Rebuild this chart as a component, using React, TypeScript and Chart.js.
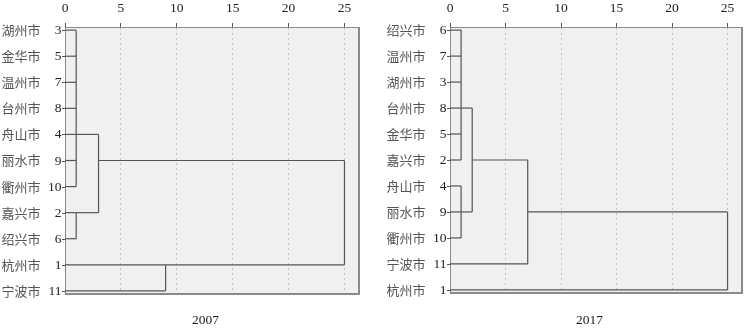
import React, { useEffect, useRef } from "react";
import { Chart, registerables } from "chart.js";
Chart.register(...registerables);

// ---- Data ----
const cities2007 = ["湖州市", "金华市", "温州市", "台州市", "舟山市", "丽水市", "衢州市", "嘉兴市", "绍兴市", "杭州市", "宁波市"];
const ids2007 = [3, 5, 7, 8, 4, 9, 10, 2, 6, 1, 11];
// merge children: leaf row indices (numbers) or earlier merges ("m#")
const mergeChildren2007: (number | string)[][] = [[0, 1, 2, 3, 4, 5, 6], [7, 8], [9, 10], ["m0", "m1"], ["m3", "m2"]];
const mergeHeights2007 = [1, 1, 9, 3, 25];
const mergeRows2007 = [4, 7, 9, 5, 5];

const cities2017 = ["绍兴市", "温州市", "湖州市", "台州市", "金华市", "嘉兴市", "舟山市", "丽水市", "衢州市", "宁波市", "杭州市"];
const ids2017 = [6, 7, 3, 8, 5, 2, 4, 9, 10, 11, 1];
const mergeChildren2017: (number | string)[][] = [[0, 1, 2, 3, 4, 5], [6, 7, 8], ["m0", "m1"], ["m2", 9], ["m3", 10]];
const mergeHeights2017 = [1, 1, 2, 7, 25];
const mergeRows2017 = [3, 7, 5, 7, 7];

const xTicks = [0, 5, 10, 15, 20, 25];

function buildSegments(children: (number | string)[][], heights: number[], rows: number[]) {
  const segs: { x: number; y: number }[][] = [];
  const info = (c: number | string) =>
    typeof c === "number" ? { row: c, h: 0 } : { row: rows[+c.slice(1)], h: heights[+c.slice(1)] };
  children.forEach((ch, i) => {
    const H = heights[i];
    const infos = ch.map(info);
    infos.forEach(({ row, h }) => segs.push([{ x: h, y: row }, { x: H, y: row }]));
    const rs = infos.map((o) => o.row);
    segs.push([{ x: H, y: Math.min(...rs) }, { x: H, y: Math.max(...rs) }]);
  });
  return segs;
}

const SERIF = '"Liberation Serif", "Times New Roman", serif';
const CJK = '"Noto Sans CJK SC", sans-serif';

function decor(cities: string[], ids: number[], year: string) {
  return {
    id: "decor",
    beforeDraw(chart: any) {
      const { ctx, chartArea: a } = chart;
      ctx.save();
      ctx.fillStyle = "#f0f0f0";
      ctx.fillRect(a.left, a.top, a.right - a.left, a.bottom - a.top);
      ctx.restore();
    },
    afterDraw(chart: any) {
      const { ctx, chartArea: a } = chart;
      const y = chart.scales.y;
      ctx.save();
      ctx.strokeStyle = "#8a8a8a";
      ctx.lineWidth = 2;
      ctx.beginPath();
      ctx.moveTo(a.right, a.top);
      ctx.lineTo(a.right, a.bottom);
      ctx.lineTo(a.left, a.bottom);
      ctx.stroke();
      cities.forEach((c, i) => {
        const py = y.getPixelForValue(i);
        ctx.strokeStyle = "#555";
        ctx.lineWidth = 1;
        ctx.beginPath();
        ctx.moveTo(a.left - 3, Math.round(py) + 0.5);
        ctx.lineTo(a.left, Math.round(py) + 0.5);
        ctx.stroke();
        ctx.fillStyle = "#555";
        ctx.textBaseline = "middle";
        ctx.textAlign = "left";
        ctx.font = "13px " + CJK;
        ctx.fillText(c, a.left - 63.5, py);
        ctx.fillStyle = "#222";
        ctx.textAlign = "right";
        ctx.font = "13.5px " + SERIF;
        ctx.fillText(String(ids[i]), a.left - 3.5, py + 0.5);
      });
      ctx.fillStyle = "#222";
      ctx.textAlign = "center";
      ctx.textBaseline = "middle";
      ctx.font = "13.5px " + SERIF;
      ctx.fillText(year, (a.left + a.right) / 2 - 6.5, 320);
      ctx.restore();
    },
  };
}

type DP = {
  cities: string[];
  ids: number[];
  children: (number | string)[][];
  heights: number[];
  rows: number[];
  year: string;
  yWidth: number;
  pad: { left: number; right: number; top: number; bottom: number };
};

function Dendro(p: DP) {
  const ref = useRef<HTMLCanvasElement>(null);
  useEffect(() => {
    const segs = buildSegments(p.children, p.heights, p.rows);
    const chart = new Chart(ref.current as HTMLCanvasElement, {
      type: "scatter",
      data: {
        datasets: segs.map((s) => ({
          data: s,
          showLine: true,
          borderColor: "#555",
          borderWidth: 1.2,
          pointRadius: 0,
          pointHoverRadius: 0,
          fill: false,
        })),
      },
      options: {
        responsive: false,
        animation: false,
        devicePixelRatio: 1,
        layout: { padding: p.pad },
        plugins: { legend: { display: false }, tooltip: { enabled: false } },
        scales: {
          x: {
            type: "linear",
            position: "top",
            min: 0,
            max: 26.3,
            afterBuildTicks: (s: any) => {
              s.ticks = xTicks.map((v) => ({ value: v }));
            },
            afterFit: (s: any) => {
              s.height = 27;
            },
            ticks: {
              font: { family: SERIF, size: 13.5 },
              color: "#222",
              padding: 6,
              maxRotation: 0,
            },
            grid: {
              color: (ctx: any) => (ctx.tick && ctx.tick.value === 0 ? "rgba(0,0,0,0)" : "#c4c4c4"),
              tickColor: "#555",
              tickLength: 4,
              lineWidth: 1,
            },
            border: { display: true, color: "#8a8a8a", width: 1, dash: [2, 3] },
          },
          y: {
            type: "linear",
            reverse: true,
            min: -0.12,
            max: 10.12,
            afterFit: (s: any) => {
              s.width = p.yWidth;
            },
            ticks: { display: false },
            grid: { display: false },
            border: { display: true, color: "#8a8a8a", width: 1 },
          },
        },
      } as any,
      plugins: [decor(p.cities, p.ids, p.year)],
    });
    return () => chart.destroy();
  }, []);
  return <canvas ref={ref} width={373} height={332} style={{ display: "block" }} />;
}

export default function App() {
  return (
    <div style={{ position: "fixed", left: 0, top: 0, width: 746, height: 332, display: "flex", background: "#fff" }}>
      <Dendro
        cities={cities2007}
        ids={ids2007}
        children={mergeChildren2007}
        heights={mergeHeights2007}
        rows={mergeRows2007}
        year="2007"
        yWidth={65}
        pad={{ left: 0, right: 14, top: 0, bottom: 38 }}
      />
      <Dendro
        cities={cities2017}
        ids={ids2017}
        children={mergeChildren2017}
        heights={mergeHeights2017}
        rows={mergeRows2017}
        year="2017"
        yWidth={77}
        pad={{ left: 0, right: 4, top: 0, bottom: 39 }}
      />
    </div>
  );
}
